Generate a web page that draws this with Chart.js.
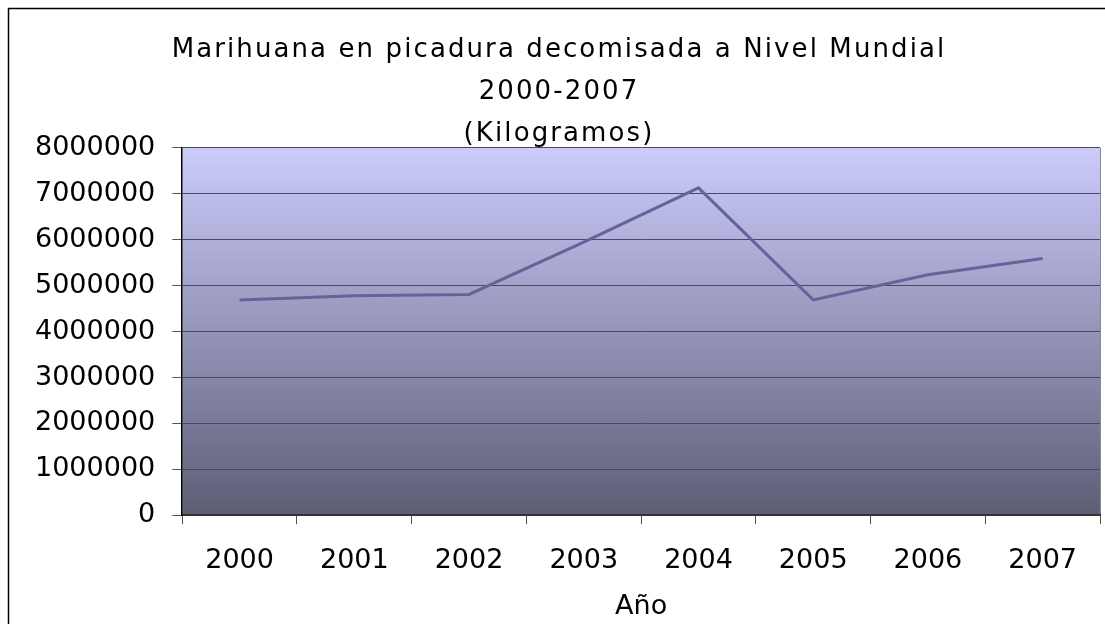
<!DOCTYPE html>
<html>
<head>
<meta charset="utf-8">
<script src="https://cdn.jsdelivr.net/npm/chart.js@4"></script>
<style>
  body { margin: 0; background: #fff; }
  canvas { display: block; }
</style>
</head>
<body>
<canvas id="line-chart" width="1105" height="624"></canvas>
<script>
var years = ["2000", "2001", "2002", "2003", "2004", "2005", "2006", "2007"];
var kilos = [4690000, 4780000, 4810000, 5950000, 7130000, 4690000, 5240000, 5590000];
var titleLines = ["Marihuana en picadura decomisada a Nivel Mundial", "2000-2007", "(Kilogramos)"];

// gradient background behind the plot + black frame round the chart
var plotBg = {
    id: 'plotBg',
    beforeDraw: function (chart) {
        var ctx = chart.ctx, a = chart.chartArea;
        ctx.save();
        var g = ctx.createLinearGradient(0, a.top, 0, a.bottom);
        g.addColorStop(0, '#ccccfc');
        g.addColorStop(1, '#5d5d75');
        ctx.fillStyle = g;
        ctx.fillRect(a.left, a.top, a.right - a.left, a.bottom - a.top);
        ctx.strokeStyle = '#8a8a8a';
        ctx.lineWidth = 1;
        ctx.beginPath();
        ctx.moveTo(a.right + 0.5, a.top);
        ctx.lineTo(a.right + 0.5, a.bottom);
        ctx.stroke();
        ctx.strokeStyle = '#000';
        ctx.lineWidth = 1.5;
        ctx.strokeRect(8.5, 8.5, 1300, 800);
        ctx.restore();

        // the original title font is wider than DejaVu, so space the letters out a bit
        var tb = chart.titleBlock;
        if (tb && !tb._spaced) {
            var orig = tb.draw;
            tb.draw = function () {
                var c = this.ctx;
                var prev = c.letterSpacing;
                c.letterSpacing = '2.1px';
                orig.apply(this, arguments);
                c.letterSpacing = prev || '0px';
            };
            tb._spaced = true;
        }
    }
};

new Chart(document.getElementById("line-chart"), {
    type: 'line',
    data: {
        labels: years,
        datasets: [{
            label: "Kilogramos",
            data: kilos,
            borderWidth: 3,
            borderColor: '#64649a',
            backgroundColor: "transparent",
            pointRadius: 0,
            tension: 0
        }]
    },
    options: {
        responsive: false,
        animation: false,
        layout: { padding: { left: 18, right: 5, top: 29, bottom: 1 } },
        plugins: {
            legend: { display: false },
            tooltip: { enabled: false },
            title: {
                display: true,
                text: titleLines,
                color: '#000',
                font: { family: 'DejaVu Sans', size: 26, weight: 'normal', lineHeight: 1.615 },
                padding: { top: 0, bottom: -7 }
            }
        },
        scales: {
            x: {
                offset: true,
                grid: {
                    offset: true,
                    drawOnChartArea: false,
                    drawTicks: true,
                    tickLength: 9,
                    color: '#555'
                },
                border: { color: '#333', width: 2 },
                ticks: {
                    color: '#000',
                    padding: 21,
                    font: { family: 'DejaVu Sans', size: 27 }
                },
                title: {
                    display: true,
                    text: 'Año',
                    color: '#000',
                    padding: { top: -8, bottom: 0 },
                    font: { family: 'DejaVu Sans', size: 27 }
                }
            },
            y: {
                min: 0,
                max: 8000000,
                grid: {
                    color: '#4a4a5c',
                    lineWidth: 1,
                    tickLength: 10,
                    tickColor: '#555'
                },
                border: { color: '#000', width: 1.5 },
                ticks: {
                    stepSize: 1000000,
                    color: '#000',
                    padding: 17,
                    font: { family: 'DejaVu Sans', size: 27 },
                    callback: function (v) { return String(v); }
                }
            }
        }
    },
    plugins: [plotBg]
});
</script>
</body>
</html>
